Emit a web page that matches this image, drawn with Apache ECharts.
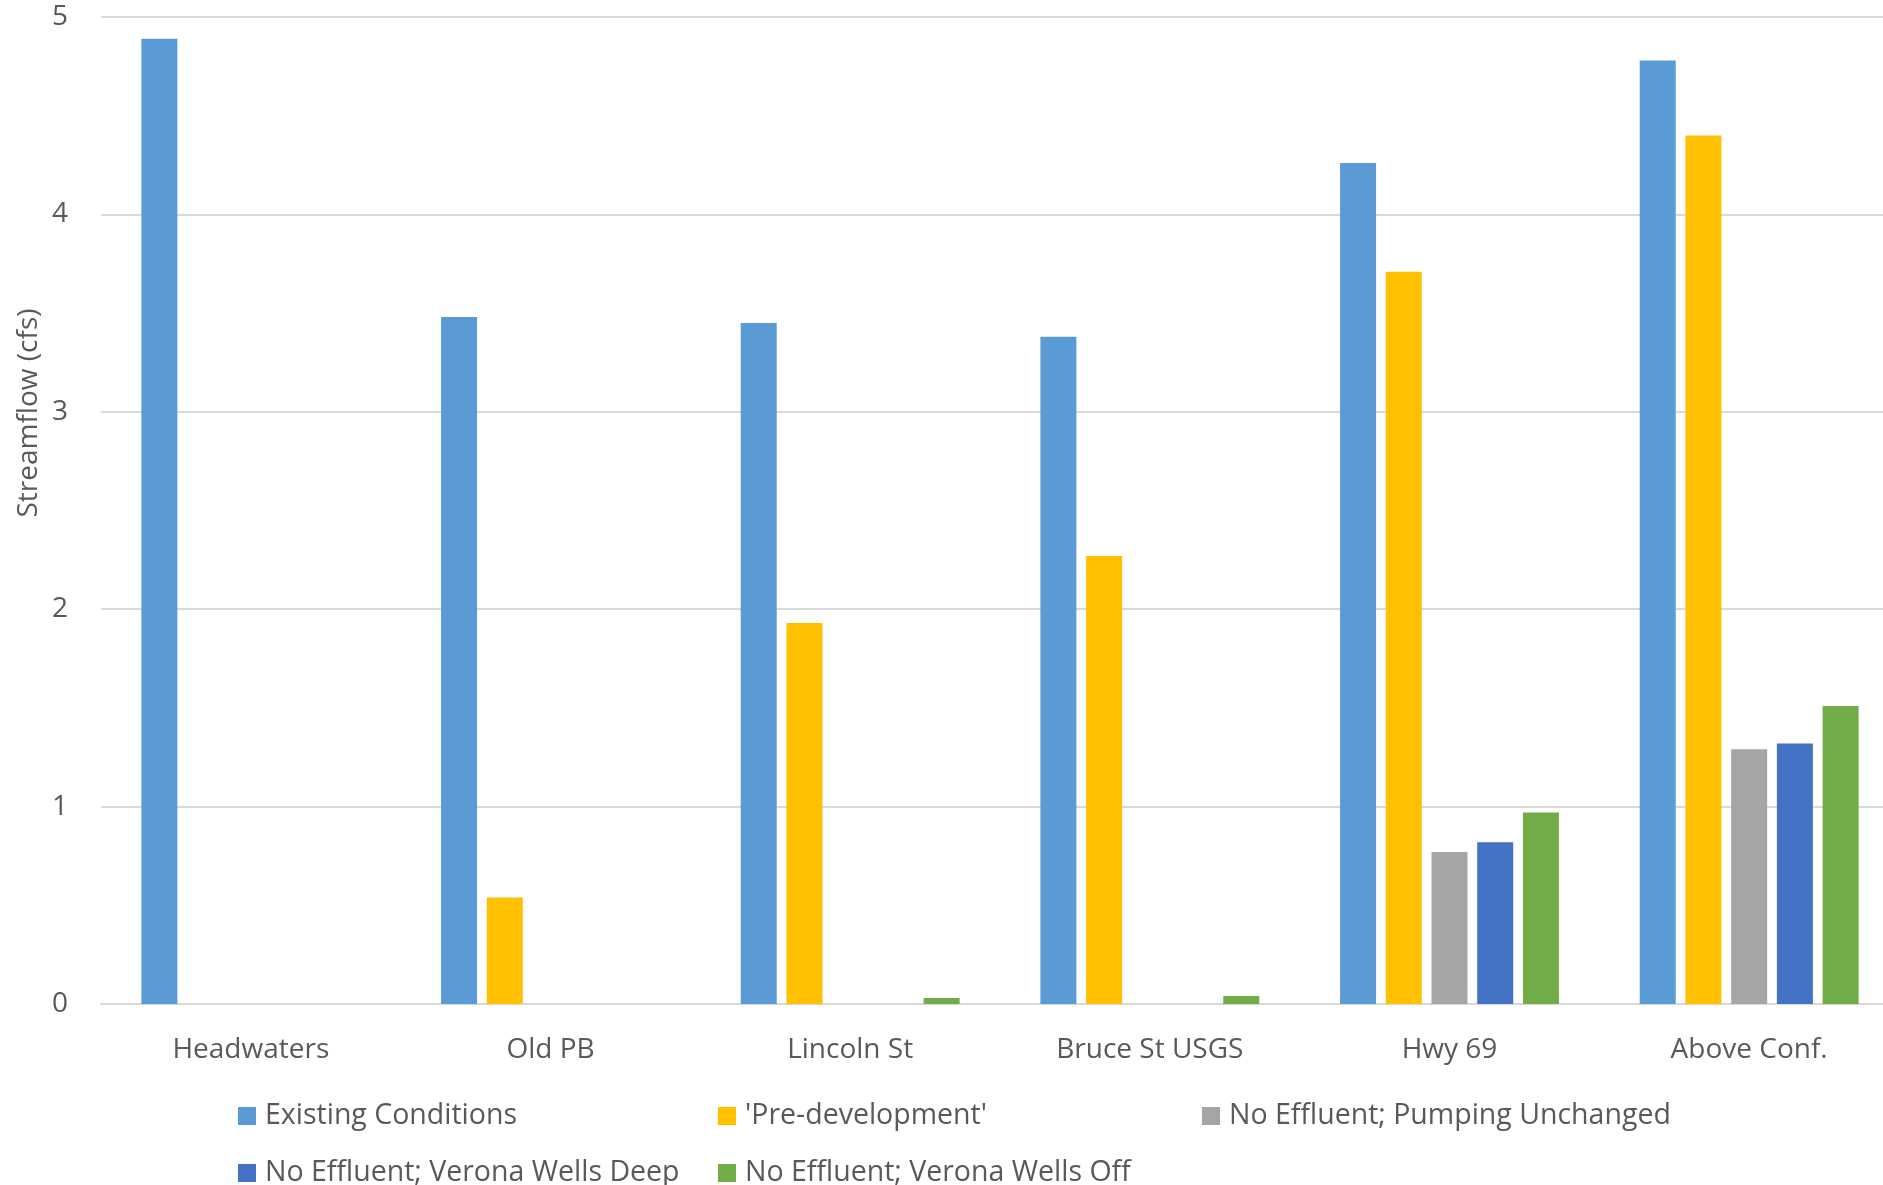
<!DOCTYPE html>
<html>
<head>
<meta charset="utf-8">
<script src="https://cdn.jsdelivr.net/npm/echarts@6/dist/echarts.min.js"></script>
<style>
  html, body { margin: 0; padding: 0; background: #fff; }
  #chart { width: 1883px; height: 1185px; }
</style>
</head>
<body>
<div id="chart"></div>
<script>
const categories = ['Headwaters', 'Old PB', 'Lincoln St', 'Bruce St USGS', 'Hwy 69', 'Above Conf.'];
const seriesNames = [
  'Existing Conditions',
  "'Pre-development'",
  'No Effluent; Pumping Unchanged',
  'No Effluent; Verona Wells Deep',
  'No Effluent; Verona Wells Off'
];
const existingConditions = [4.89, 3.48, 3.45, 3.38, 4.26, 4.78];
const preDevelopment = [null, 0.54, 1.93, 2.27, 3.71, 4.40];
const pumpingUnchanged = [null, null, null, null, 0.77, 1.29];
const veronaWellsDeep = [null, null, null, null, 0.82, 1.32];
const veronaWellsOff = [null, null, 0.03, 0.04, 0.97, 1.51];
const yTicks = [0, 1, 2, 3, 4, 5];
const yTitle = 'Streamflow (cfs)';

const colors = ['#5B9BD5', '#FFC000', '#A5A5A5', '#4472C4', '#70AD47'];
const seriesData = [existingConditions, preDevelopment, pumpingUnchanged, veronaWellsDeep, veronaWellsOff];
const FONT = '"Open Sans", sans-serif';
const TXT = '#595959';

const legendPos = [
  { left: 238, top: 1099 },
  { left: 718, top: 1099 },
  { left: 1202, top: 1099 },
  { left: 238, top: 1156 },
  { left: 718, top: 1156 }
];

const chart = echarts.init(document.getElementById('chart'));
chart.setOption({
  animation: false,
  backgroundColor: '#ffffff',
  color: colors,
  grid: { left: 101, top: 17, height: 987, width: 1798, containLabel: false, outerBoundsMode: 'none' },
  xAxis: {
    type: 'category',
    data: categories,
    axisLine: { show: true, lineStyle: { color: '#d9d9d9', width: 2 } },
    axisTick: { show: false },
    axisLabel: { color: TXT, fontFamily: FONT, fontSize: 28, margin: 29, lineHeight: 34 },
    splitLine: { show: false }
  },
  yAxis: {
    type: 'value',
    min: yTicks[0],
    max: yTicks[yTicks.length - 1],
    interval: 1,
    axisLine: { show: false },
    axisTick: { show: false },
    axisLabel: { color: TXT, fontFamily: FONT, fontSize: 28, margin: 33 },
    splitLine: { show: true, lineStyle: { color: '#d9d9d9', width: 2 } }
  },
  legend: seriesNames.map((name, i) => ({
    data: [name],
    left: legendPos[i].left,
    top: legendPos[i].top,
    padding: 0,
    itemWidth: 18,
    itemHeight: 18,
    icon: 'rect',
    selectedMode: false,
    textStyle: { color: TXT, fontFamily: FONT, fontSize: 28.5, lineHeight: 34, padding: [0, 0, 0, 4] }
  })),
  graphic: [{
    type: 'text',
    x: 29,
    y: 413,
    rotation: Math.PI / 2,
    style: {
      text: yTitle,
      fill: TXT,
      font: '28px "Open Sans", sans-serif',
      align: 'center',
      verticalAlign: 'middle'
    }
  }],
  series: seriesNames.map((name, i) => ({
    name: name,
    type: 'bar',
    data: seriesData[i],
    barWidth: 36,
    barGap: '27%',
    itemStyle: { color: colors[i] }
  }))
});
</script>
</body>
</html>
